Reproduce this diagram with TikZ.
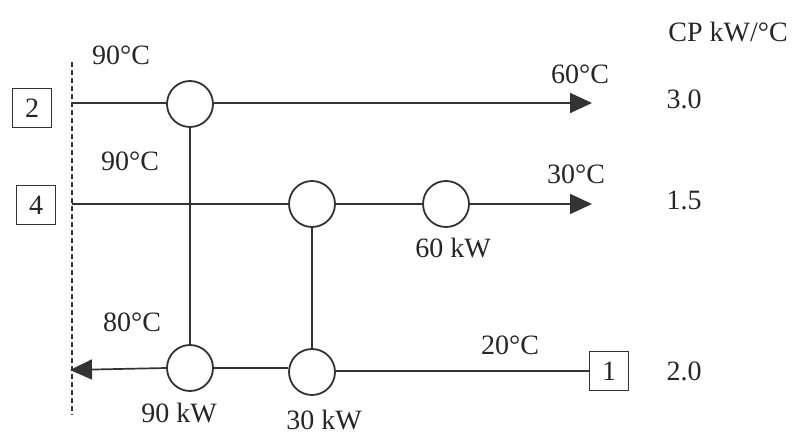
\documentclass[tikz,border=0pt]{standalone}
\usepackage{fontspec}
\setmainfont{Liberation Serif}
\usetikzlibrary{arrows.meta}
\begin{document}
\begin{tikzpicture}[x=1pt,y=-1pt,
  line width=1.8pt,
  every node/.style={font=\fontsize{28}{32}\selectfont, text=black!85},
  hx/.style={circle,draw=black!80,fill=white,minimum size=46pt,inner sep=0pt,line width=1.8pt},
  strm/.style={draw=black!80,line width=1.7pt},
  sbox/.style={draw=black!80,line width=1.8pt,minimum width=39pt,minimum height=39pt,inner sep=0pt,fill=white},
  tip/.style={-{Triangle[length=22pt,width=20pt]}},
  lbl/.style={inner sep=0pt,anchor=center}]
\useasboundingbox (0,0) rectangle (795,435);
% dashed boundary
\coordinate (dtop) at (72,62);
\coordinate (dbot) at (72,415);
\draw[draw=black!80,line width=1.5pt,dash pattern=on 5pt off 3pt] (dtop) -- (dbot);
% stream ends
\coordinate (s2in) at (72,103);
\coordinate (s2out) at (592,103);
\coordinate (s4in) at (72,204);
\coordinate (s4out) at (592,204);
\coordinate (s1out) at (70,370);
% exchangers
\node[hx] (c1) at (190,104) {};
\node[hx] (c2) at (312,204) {};
\node[hx] (c3) at (446,204) {};
\node[hx] (c4) at (190,368) {};
\node[hx] (c5) at (312,372) {};
% stream boxes
\node[sbox] (b2) at (32,108) {2};
\node[sbox] (b4) at (36,205) {4};
\node[sbox] (b1) at (609,371) {1};
% stream 2
\draw[strm] (s2in) -- (c1.west |- s2in);
\draw[strm,tip] (c1.east |- s2out) -- (s2out);
% stream 4
\draw[strm] (s4in) -- (c2.west);
\draw[strm] (c2.east) -- (c3.west);
\draw[strm,tip] (c3.east) -- (s4out);
% stream 1 (cold)
\draw[strm] (b1.west) -- (c5.east |- b1.west);
\draw[strm] (c5.west |- c4.east) -- (c4.east);
\draw[strm,tip] (c4.west) -- (s1out);
% matches
\draw[strm] (c1.south) -- (c4.north);
\draw[strm] (c2.south) -- (c5.north);
% labels
\node[lbl] (t90a) at (121,55) {90°C};
\node[lbl] (t90b) at (130,161) {90°C};
\node[lbl] (t80) at (132,322) {80°C};
\node[lbl] (t60) at (580,74) {60°C};
\node[lbl] (t30) at (576,174) {30°C};
\node[lbl] (t20) at (510,345) {20°C};
\node[lbl] (q90) at (179,413) {90 kW};
\node[lbl] (q30) at (324,420) {30 kW};
\node[lbl] (q60) at (453,248) {60 kW};
\node[lbl] (cp) at (728,32) {CP kW/°C};
\node[lbl] (cp2) at (684,99) {3.0};
\node[lbl] (cp4) at (684,200) {1.5};
\node[lbl] (cp1) at (684,371) {2.0};
\end{tikzpicture}
\end{document}
